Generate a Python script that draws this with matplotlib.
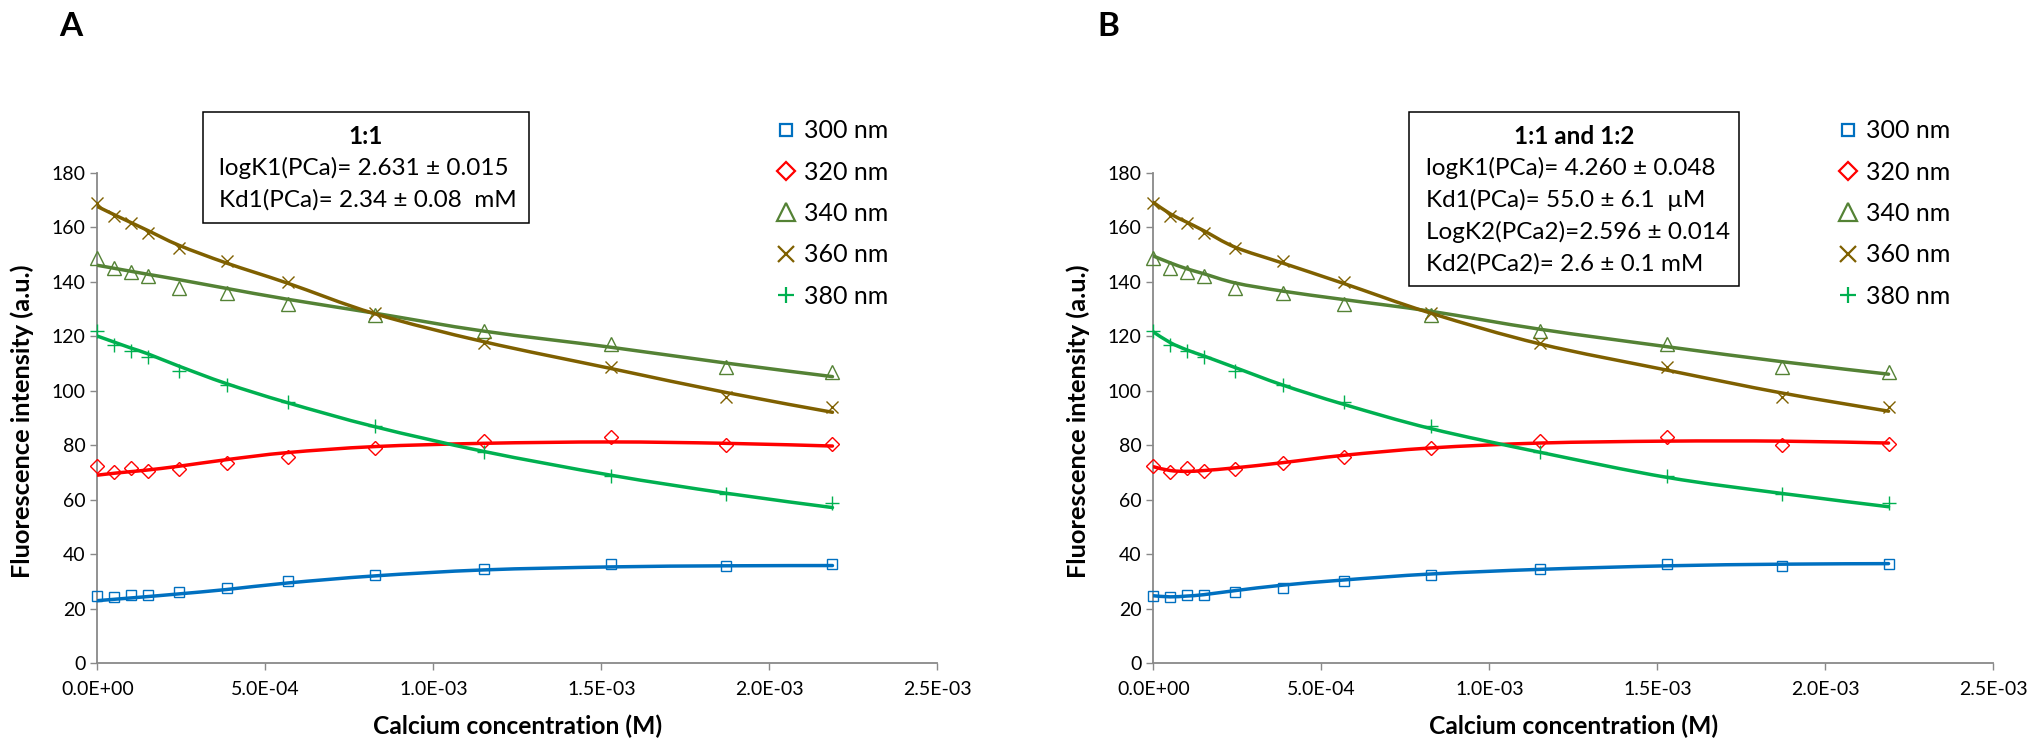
import numpy as np
import matplotlib
matplotlib.use("Agg")
import matplotlib.pyplot as plt
from matplotlib.path import Path
from matplotlib.patches import PathPatch, Rectangle
from matplotlib.lines import Line2D
from matplotlib.ticker import FuncFormatter, MultipleLocator

plt.rcParams['font.family'] = ['Lato', 'DejaVu Sans']

# calcium concentration (M)
conc = [0.0, 5.0e-5, 1.0e-4, 1.5e-4, 2.44e-4, 3.85e-4, 5.67e-4,
        8.26e-4, 1.151e-3, 1.528e-3, 1.870e-3, 2.188e-3]

# measured fluorescence (same data in both panels)
i300 = [24.5, 24.4, 25.0, 25.0, 26.1, 27.6, 30.0, 32.2, 34.5, 36.3, 35.6, 36.2]
i320 = [72.4, 70.3, 71.6, 70.7, 71.4, 73.5, 75.8, 78.9, 81.7, 83.1, 80.0, 80.3]
i340 = [148.7, 145.2, 143.8, 142.0, 137.9, 135.8, 131.8, 128.0, 122.0, 117.3, 108.6, 107.0]
i360 = [168.9, 164.2, 161.7, 158.0, 152.3, 147.6, 140.0, 128.5, 117.7, 108.6, 97.8, 94.0]
i380 = [121.8, 116.7, 114.5, 112.4, 107.3, 102.1, 95.7, 87.1, 77.4, 68.8, 62.0, 58.6]

# fitted values, model 1:1 (panel A)
fa300 = [22.9, 23.4, 23.9, 24.4, 25.4, 27.0, 29.4, 32.0, 34.2, 35.3, 35.7, 35.8]
fa320 = [69.0, 69.7, 70.3, 70.9, 72.3, 74.7, 77.3, 79.5, 80.7, 81.2, 80.7, 79.7]
fa340 = [146.1, 145.0, 143.9, 142.8, 140.8, 137.6, 133.6, 128.5, 121.9, 116.0, 110.2, 105.2]
fa360 = [167.7, 164.7, 161.8, 158.9, 153.4, 146.9, 139.5, 128.3, 118.0, 108.2, 99.4, 92.1]
fa380 = [120.1, 117.9, 115.7, 113.6, 109.0, 102.6, 95.6, 86.8, 77.7, 69.0, 62.4, 57.1]

# fitted values, model 1:1 and 1:2 (panel B)
fb300 = [24.7, 24.3, 24.6, 25.1, 26.6, 28.6, 30.5, 32.7, 34.4, 35.7, 36.3, 36.5]
fb320 = [72.1, 70.7, 70.4, 70.7, 71.7, 73.6, 76.3, 79.0, 80.8, 81.5, 81.5, 80.8]
fb340 = [149.5, 147.0, 144.8, 143.0, 139.6, 136.6, 133.5, 129.2, 122.6, 116.2, 110.7, 106.1]
fb360 = [169.2, 165.0, 161.9, 158.8, 152.7, 146.9, 139.4, 128.5, 117.2, 107.6, 99.2, 92.5]
fb380 = [121.6, 117.7, 115.0, 112.8, 108.5, 102.1, 95.0, 86.1, 77.4, 68.2, 62.3, 57.4]

labels = ['300 nm', '320 nm', '340 nm', '360 nm', '380 nm']
colors = ['#0070C0', '#FF0000', '#548235', '#7F6000', '#00B050']
markers = ['s', 'D', '^', 'x', '+']
plot_ms = [7.5, 7.0, 10.0, 9.0, 9.5]
leg_ms = [8.6, 9.5, 13.0, 11.0, 11.5]

box_a = ['1:1', 'logK1(PCa)= 2.631 ± 0.015', 'Kd1(PCa)= 2.34 ± 0.08  mM']
box_b = ['1:1 and 1:2', 'logK1(PCa)= 4.260 ± 0.048', 'Kd1(PCa)= 55.0 ± 6.1  µM',
         'LogK2(PCa2)=2.596 ± 0.014', 'Kd2(PCa2)= 2.6 ± 0.1 mM']

W, H = 2038, 743


def fx(px):
    return px / W


def fy(py):
    return 1 - py / H


def smooth_path(x, y):
    """Excel-like smoothed line (Catmull-Rom as cubic Bezier)."""
    pts = np.column_stack([x, y])
    ext = np.vstack([pts[0], pts, pts[-1]])
    verts = [pts[0]]
    codes = [Path.MOVETO]
    for i in range(len(pts) - 1):
        p0, p1, p2, p3 = ext[i], ext[i + 1], ext[i + 2], ext[i + 3]
        verts += [p1 + (p2 - p0) / 6, p2 - (p3 - p1) / 6, p2]
        codes += [Path.CURVE4] * 3
    return Path(verts, codes)


def draw_panel(ax, fits):
    data = [i300, i320, i340, i360, i380]
    for vals, fit, c, m, ms in zip(data, fits, colors, markers, plot_ms):
        ax.plot(conc, vals, ls='none', marker=m, ms=ms, mfc='none', mec=c,
                mew=1.0, clip_on=False, zorder=3)
        ax.add_patch(PathPatch(smooth_path(conc, fit), fill=False, ec=c,
                               lw=2.5, zorder=4, capstyle='round'))
    ax.set_xlim(0, 2.5e-3)
    ax.set_ylim(0, 180)
    ax.xaxis.set_major_locator(MultipleLocator(5e-4))
    ax.yaxis.set_major_locator(MultipleLocator(20))
    ax.xaxis.set_major_formatter(FuncFormatter(lambda v, p: f"{v:.1E}"))
    for s in ['top', 'right']:
        ax.spines[s].set_visible(False)
    for s in ['left', 'bottom']:
        ax.spines[s].set_color('#898989')
        ax.spines[s].set_linewidth(1.3)
    ax.tick_params(direction='out', length=5, width=1.0, color='#898989',
                   labelsize=14)
    ax.tick_params(axis='x', pad=8)
    ax.tick_params(axis='y', pad=3.5)


fig = plt.figure(figsize=(W / 100, H / 100), dpi=100)

axes_px = [(97.3, 937.3), (1153.4, 1993.4)]
ax_bottom, ax_top = 663, 173
panels = [(fa300, fa320, fa340, fa360, fa380), (fb300, fb320, fb340, fb360, fb380)]

for (x0, x1), fits in zip(axes_px, panels):
    ax = fig.add_axes([fx(x0), fy(ax_bottom), (x1 - x0) / W, (ax_bottom - ax_top) / H])
    draw_panel(ax, fits)
    fig.text(fx((x0 + x1) / 2), fy(726), 'Calcium concentration (M)',
             ha='center', va='center', fontsize=17.7, weight='bold')
    fig.text(fx(x0 - 75), fy(421), 'Fluorescence intensity (a.u.)', rotation=90,
             ha='center', va='center', fontsize=18.3, weight='bold')

# panel letters
fig.text(fx(71), fy(26), 'A', ha='center', va='center', fontsize=24, weight='bold')
fig.text(fx(1108), fy(26), 'B', ha='center', va='center', fontsize=24, weight='bold')

# fit result boxes
for (bx0, by0, bx1, by1, tx, lines) in [(203, 112, 529, 223, 219, box_a),
                                         (1409, 112, 1739, 286, 1426, box_b)]:
    fig.patches.append(Rectangle((fx(bx0), fy(by1)), (bx1 - bx0) / W, (by1 - by0) / H,
                                 transform=fig.transFigure, fill=False, ec='black', lw=1.1))
    fig.text(fx((bx0 + bx1) / 2), fy(136), lines[0], ha='center', va='center',
             fontsize=17.5, weight='bold')
    for k, line in enumerate(lines[1:]):
        fig.text(fx(tx), fy(168 + 32 * k), line, ha='left', va='center', fontsize=17.5)

# legends (markers only, like the Excel chart)
handles = [Line2D([], [], ls='none', marker=m, ms=ms, mfc='none', mec=c, mew=1.6)
           for m, ms, c in zip(markers, leg_ms, colors)]
for lx in [775.5, 1837]:
    fig.legend(handles, labels, loc='upper left', bbox_to_anchor=(fx(lx), fy(119.5)),
               bbox_transform=fig.transFigure, frameon=False, borderpad=0,
               borderaxespad=0, handlelength=0.85, handletextpad=0.3,
               labelspacing=0.73, fontsize=18)

fig.savefig('out.png', dpi=100)
